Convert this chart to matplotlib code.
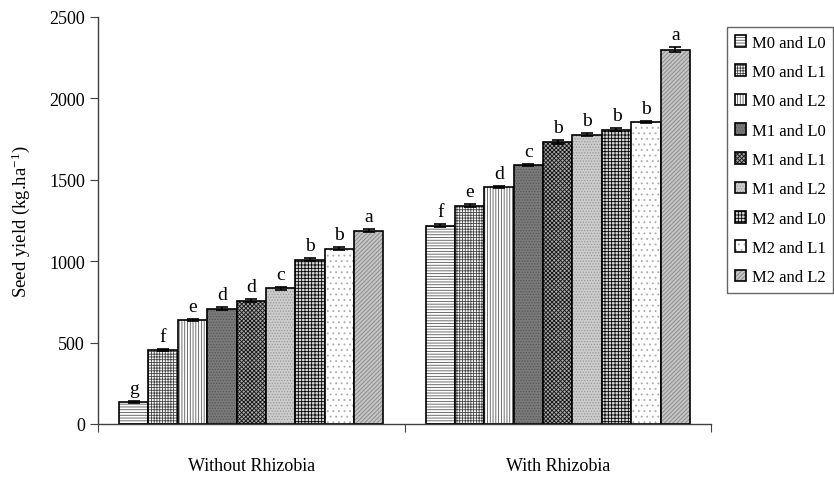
import matplotlib
matplotlib.use("Agg")
import matplotlib.pyplot as plt
import numpy as np
from matplotlib.colors import to_rgba

plt.rcParams['font.family'] = ['Liberation Serif', 'DejaVu Serif']
plt.rcParams['mathtext.fontset'] = 'custom'
plt.rcParams['mathtext.rm'] = 'Liberation Serif'
plt.rcParams['mathtext.default'] = 'regular'
plt.rcParams['hatch.linewidth'] = 0.6

categories = ["Without Rhizobia", "With Rhizobia"]
treatments = ["M0 and L0", "M0 and L1", "M0 and L2", "M1 and L0", "M1 and L1",
              "M1 and L2", "M2 and L0", "M2 and L1", "M2 and L2"]
without_vals = [135, 455, 638, 708, 757, 833, 1010, 1078, 1187]
with_vals = [1218, 1340, 1456, 1590, 1732, 1778, 1808, 1855, 2300]
without_err = [8, 8, 8, 8, 10, 8, 8, 8, 10]
with_err = [10, 10, 8, 8, 10, 8, 8, 8, 17]
without_letters = ["g", "f", "e", "d", "d", "c", "b", "b", "a"]
with_letters = ["f", "e", "d", "c", "b", "b", "b", "b", "a"]

faces = ["white", "white", "white", "#7a7a7a", "#a8a8a8", "#cccccc", "#d8d8d8", "white", "#c4c4c4"]
hatches = ["------", "++++++", "||||||", "......", "xxxxxxxx", "......", "+++++", "...", "////////"]
hcolors = ["#555555", "#444444", "#555555", "#555555", "#111111", "#999999", "#000000", "#aaaaaa", "#888888"]

fig = plt.figure(figsize=(8.34, 4.89), dpi=100)
ax = fig.add_axes([98/834, 1-425/489, (711-98)/834, (425-18)/489])

x = np.arange(len(categories))
n = len(treatments)
w = 0.0958
for i in range(n):
    vals = [without_vals[i], with_vals[i]]
    errs = [without_err[i], with_err[i]]
    pos = x + (i - (n-1)/2) * w
    bc = ax.bar(pos, vals, width=w, color=faces[i], edgecolor='black', linewidth=1.2,
                hatch=hatches[i], label=treatments[i], zorder=2)
    for p in bc:
        p._hatch_color = to_rgba(hcolors[i])
    ax.errorbar(pos, vals, yerr=errs, fmt='none', ecolor='black', elinewidth=1.2,
                capsize=4, capthick=1.2, zorder=3)
    for xi, v, e, lab in zip(pos, vals, errs, [without_letters[i], with_letters[i]]):
        ax.text(xi, v + e + 25, lab, ha='center', va='bottom', fontsize=14)

ax.set_xlim(-0.5, 1.5)
ax.set_ylim(0, 2500)
ax.set_yticks(np.arange(0, 2501, 500))
ax.set_xticks([-0.5, 0.5, 1.5])
ax.set_xticklabels([])
ax.set_xticks(x, minor=True)
ax.set_xticklabels(categories, minor=True, fontsize=13)
ax.tick_params(axis='x', which='minor', length=0, pad=24)
ax.tick_params(axis='x', which='major', length=6, direction='out', color='#404040')
ax.tick_params(axis='y', length=6, direction='out', labelsize=13, color='#404040')
for s in ['top', 'right']:
    ax.spines[s].set_visible(False)
for s in ['left', 'bottom']:
    ax.spines[s].set_color('#404040')
    ax.spines[s].set_linewidth(1.0)
ax.set_ylabel("Seed yield (kg.ha$^{-1}$)", fontsize=13.5, labelpad=12)

leg = ax.legend(loc='upper left', bbox_to_anchor=(727/834, 1-28/489),
                bbox_transform=fig.transFigure, frameon=True, fancybox=False,
                edgecolor='#404040', fontsize=12, handlelength=0.7, handleheight=0.7,
                handletextpad=0.35, labelspacing=0.8, borderpad=0.45, borderaxespad=0)
leg.get_frame().set_linewidth(1.0)

fig.savefig("out.png", dpi=100)
